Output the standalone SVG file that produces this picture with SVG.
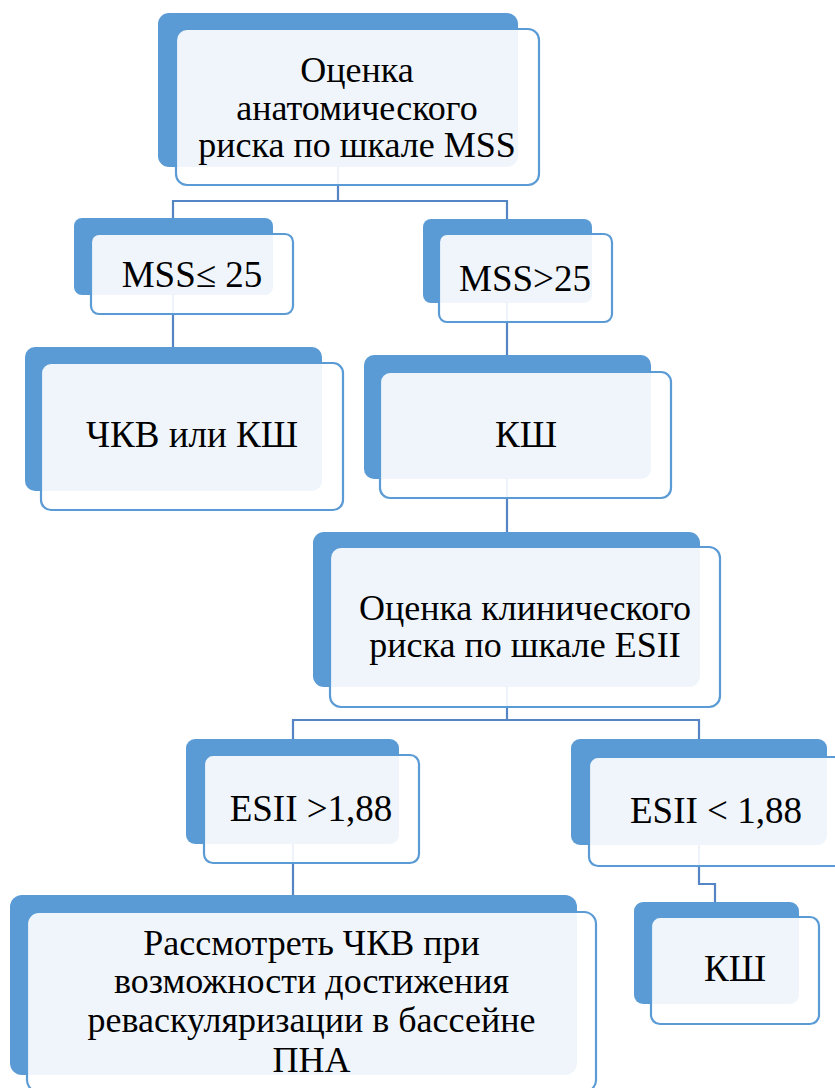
<svg xmlns="http://www.w3.org/2000/svg" width="835" height="1088" viewBox="0 0 835 1088">
<style>
.bk{fill:#5B9BD5;}
.fr{fill:#FFFFFF;fill-opacity:0.9;stroke:#5B9BD5;stroke-width:2.2;}
text{font-family:"Liberation Serif","Times New Roman","DejaVu Serif",serif;fill:#000;text-anchor:middle;}
.t{font-size:37px;}
.t2{font-size:36px;}
.c{fill:none;stroke:#5585C5;stroke-width:2.2;}
</style>
<rect width="835" height="1088" fill="#FFFFFF"/>
<g id="connectors">
<path class="c" d="M338,167 V201"/>
<path class="c" d="M173,218 V201 H507 V219"/>
<path class="c" d="M173,295 V347"/>
<path class="c" d="M507,303 V355"/>
<path class="c" d="M507,479 V532"/>
<path class="c" d="M507,687 V720"/>
<path class="c" d="M293,739 V720 H699 V739"/>
<path class="c" d="M293,844 V895"/>
<path class="c" d="M699,845 V884 H715 V902"/>
</g>
<g id="n1">
<rect class="bk" x="158" y="13" width="360" height="154" rx="11"/>
<rect class="fr" x="176" y="29" width="363" height="156" rx="11"/>
<text class="t2" x="357" y="82">Оценка</text>
<text class="t2" x="357" y="120">анатомического</text>
<text class="t2" x="357" y="157">риска по шкале MSS</text>
</g>
<g id="n2">
<rect class="bk" x="74" y="218" width="199" height="77" rx="8"/>
<rect class="fr" x="91" y="234" width="202" height="80" rx="8"/>
<text class="t" x="192" y="287">MSS≤ 25</text>
</g>
<g id="n3">
<rect class="bk" x="423" y="219" width="169" height="84" rx="8"/>
<rect class="fr" x="439" y="234" width="173" height="88" rx="8"/>
<text class="t" x="525" y="291">MSS&gt;25</text>
</g>
<g id="n4">
<rect class="bk" x="25" y="347" width="297" height="144" rx="10"/>
<rect class="fr" x="41" y="363" width="302" height="147" rx="10"/>
<text class="t" x="192" y="447">ЧКВ или КШ</text>
</g>
<g id="n5">
<rect class="bk" x="364" y="355" width="287" height="124" rx="10"/>
<rect class="fr" x="380" y="372" width="291" height="126" rx="10"/>
<text class="t" x="526" y="447">КШ</text>
</g>
<g id="n6">
<rect class="bk" x="313" y="532" width="387" height="155" rx="11"/>
<rect class="fr" x="330" y="547" width="390" height="160" rx="11"/>
<text class="t2" x="525" y="620">Оценка клинического</text>
<text class="t2" x="525" y="657">риска по шкале ESII</text>
</g>
<g id="n7">
<rect class="bk" x="186" y="739" width="213" height="105" rx="9"/>
<rect class="fr" x="204" y="755" width="215" height="108" rx="9"/>
<text class="t" x="311" y="821">ESII &gt;1,88</text>
</g>
<g id="n8">
<rect class="bk" x="571" y="739" width="256" height="106" rx="9"/>
<rect class="fr" x="589" y="757" width="254" height="109" rx="9"/>
<text class="t" x="716" y="823">ESII &lt; 1,88</text>
</g>
<g id="n9">
<rect class="bk" x="10" y="895" width="567" height="180" rx="12"/>
<rect class="fr" x="27" y="912" width="569" height="180" rx="12"/>
<text class="t2" x="311.5" y="955">Рассмотреть ЧКВ при</text>
<text class="t2" x="311.5" y="993">возможности достижения</text>
<text class="t2" x="311.5" y="1032">реваскуляризации в бассейне</text>
<text class="t2" x="311.5" y="1072">ПНА</text>
</g>
<g id="n10">
<rect class="bk" x="634" y="902" width="165" height="102" rx="9"/>
<rect class="fr" x="651" y="917" width="168" height="107" rx="9"/>
<text class="t" x="735" y="981">КШ</text>
</g>
</svg>
